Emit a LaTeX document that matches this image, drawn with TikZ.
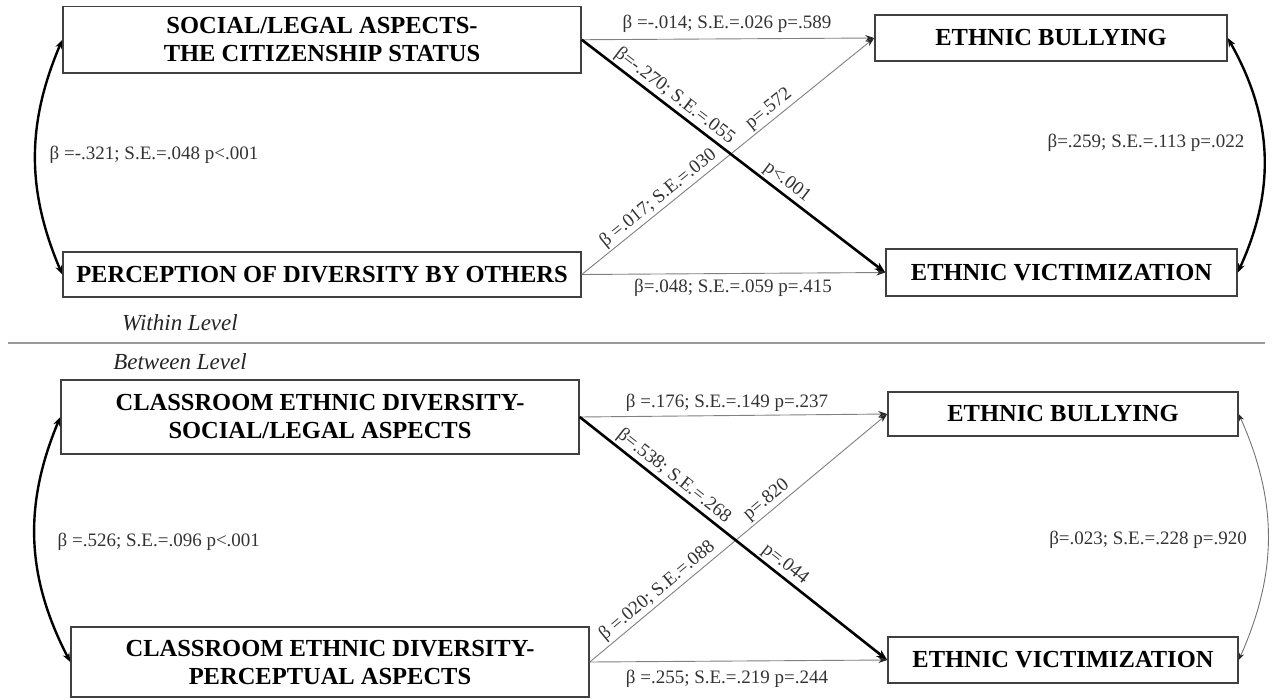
\documentclass[tikz,border=0pt]{standalone}
\usepackage{fontspec}
\setmainfont{Liberation Serif}
\usetikzlibrary{arrows.meta}
\begin{document}
\begin{tikzpicture}[x=1pt,y=-1pt,
  box/.style={draw=black!75, line width=1.5pt, inner sep=0pt, align=center,
    font=\fontsize{24.5}{28}\selectfont\bfseries, text=black},
  lab/.style={font=\fontsize{19}{21}\selectfont, text=black!80, inner sep=1.5pt},
  dlab/.style={lab, sloped, above, inner sep=2pt},
  thinarr/.style={draw=black!50, line width=0.9pt, -{Stealth[length=9pt,width=6pt,black!85]}},
  thickarr/.style={draw=black, line width=2.6pt, -{Stealth[length=11pt,width=8pt]}},
  arcthick/.style={draw=black, line width=2.4pt, {Stealth[length=9pt,width=7pt]}-{Stealth[length=9pt,width=7pt]}},
  arcthin/.style={draw=black!55, line width=0.9pt, {Stealth[length=7pt,width=5pt,black!85]}-{Stealth[length=7pt,width=5pt,black!85]}},
  lvltext/.style={font=\fontsize{23}{26}\selectfont\itshape, text=black!85, inner sep=0pt},
]
\useasboundingbox (0,0) rectangle (1272,699);

% ---------- Within level ----------
\node[box, minimum width=518pt, minimum height=66.5pt] (A1) at (322,39.75)
  {SOCIAL/LEGAL ASPECTS-\\THE CITIZENSHIP STATUS};
\node[box, minimum width=518pt, minimum height=45pt] (A2) at (322,274.5)
  {PERCEPTION OF DIVERSITY BY OTHERS};
\node[box, minimum width=352pt, minimum height=46pt] (B1) at (1051,38)
  {ETHNIC BULLYING};
\node[box, minimum width=351pt, minimum height=47pt] (B2) at (1061.5,272.5)
  {ETHNIC VICTIMIZATION};

\draw[thinarr] (A1.east) -- (B1.west);
\draw[thinarr] (A2.east) -- (B2.west);
\draw[thinarr] (A2.east) -- (B1.west)
  node[dlab, pos=0.286] {β =.017; S.E.=.030}
  node[dlab, pos=0.663] {p=.572};
\draw[thickarr] (A1.east) -- (B2.west)
  node[dlab, pos=0.282] {β=-.270; S.E.=.055}
  node[dlab, pos=0.653] {p<.001};
\draw[arcthick] (A1.west) to[bend right=23] (A2.west);
\draw[arcthick] (B1.east) to[bend left=27] (B2.east);

\node[lab] (l1) at (727,24) {β =-.014; S.E.=.026 p=.589};
\node[lab] (l2) at (733,288) {β=.048; S.E.=.059 p=.415};
\node[lab, anchor=west] (l3) at (48,155) {β =-.321; S.E.=.048 p<.001};
\node[lab] (l4) at (1146,143) {β=.259; S.E.=.113 p=.022};

\node[lvltext] (w) at (180,323) {Within Level};
\draw[draw=black!40, line width=2pt] (8,343) -- (1265,343);
\node[lvltext] (bl) at (180,362) {Between Level};

% ---------- Between level ----------
\node[box, minimum width=518pt, minimum height=74pt] (C1) at (320,417)
  {CLASSROOM ETHNIC DIVERSITY-\\SOCIAL/LEGAL ASPECTS};
\node[box, minimum width=518pt, minimum height=70pt] (C2) at (330,662)
  {CLASSROOM ETHNIC DIVERSITY-\\PERCEPTUAL ASPECTS};
\node[box, minimum width=350pt, minimum height=44pt] (D1) at (1063,414)
  {ETHNIC BULLYING};
\node[box, minimum width=350pt, minimum height=46pt] (D2) at (1063,660)
  {ETHNIC VICTIMIZATION};

\draw[thinarr] (C1.east) -- (D1.west);
\draw[thinarr] (C2.east) -- (D2.west);
\draw[thinarr] (C2.east) -- (D1.west)
  node[dlab, pos=0.251] {β =.020; S.E.=.088}
  node[dlab, pos=0.618] {p=.820};
\draw[thickarr] (C1.east) -- (D2.west)
  node[dlab, pos=0.282] {β=.538; S.E.=.268}
  node[dlab, pos=0.644] {p=.044};
\draw[arcthick] (C1.west) to[bend right=25] (C2.west);
\draw[arcthin] (D1.east) to[bend left=24] (D2.east);

\node[lab] (m1) at (727,403) {β =.176; S.E.=.149 p=.237};
\node[lab] (m2) at (727,679) {β =.255; S.E.=.219 p=.244};
\node[lab, anchor=west] (m3) at (56,542) {β =.526; S.E.=.096 p<.001};
\node[lab] (m4) at (1148,540) {β=.023; S.E.=.228 p=.920};
\end{tikzpicture}
\end{document}
